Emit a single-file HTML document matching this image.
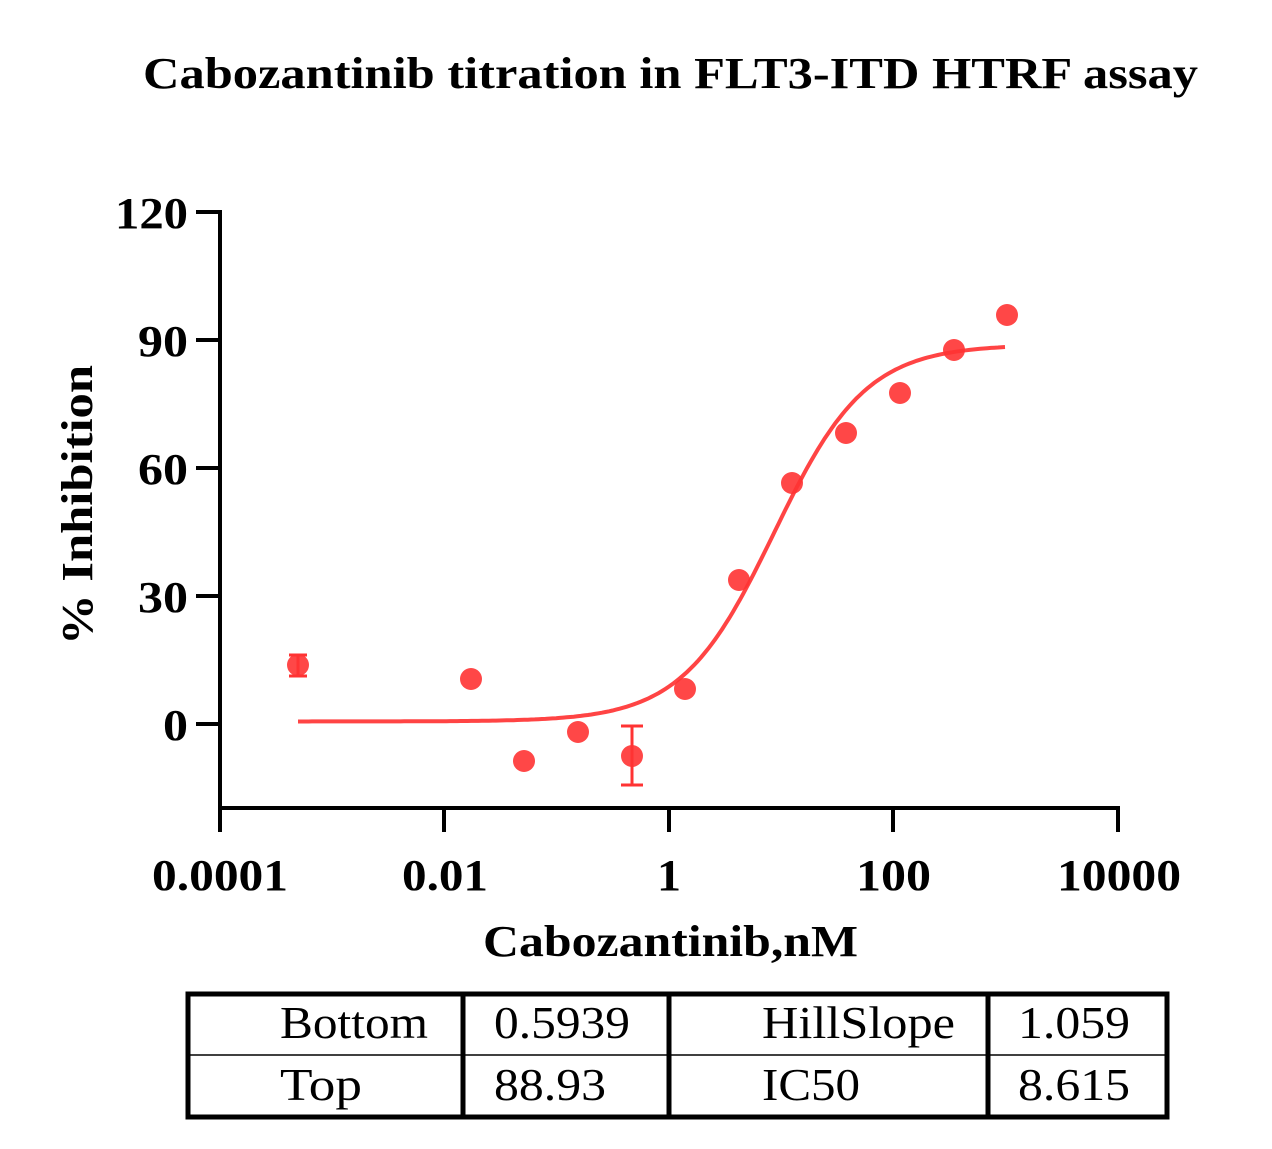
<!DOCTYPE html>
<html><head><meta charset="utf-8"><style>
html,body{margin:0;padding:0;background:#fff}
svg{display:block}
text{font-family:"Liberation Serif",serif;fill:#000}
.b{font-weight:bold}
</style></head><body>
<svg id="s" width="1272" height="1149" viewBox="0 0 1272 1149">
<text x="143" y="88" class="b" font-size="44" textLength="1055" lengthAdjust="spacingAndGlyphs">Cabozantinib titration in FLT3-ITD HTRF assay</text>
<g stroke="#000" stroke-width="4" fill="none">
<path d="M220 210 V808 H1120"/>
<path d="M196 212 H220 M196 340 H220 M196 468 H220 M196 596 H220 M196 724 H220"/>
<path d="M220 808 V832 M444 808 V832 M669 808 V832 M893 808 V832 M1118 808 V832"/>
</g>
<g class="b" font-size="44">
<text x="115" y="228" textLength="73" lengthAdjust="spacingAndGlyphs">120</text>
<text x="138" y="356" textLength="50" lengthAdjust="spacingAndGlyphs">90</text>
<text x="138" y="484" textLength="50" lengthAdjust="spacingAndGlyphs">60</text>
<text x="138" y="612" textLength="50" lengthAdjust="spacingAndGlyphs">30</text>
<text x="163" y="740" textLength="25" lengthAdjust="spacingAndGlyphs">0</text>
<text x="152" y="890" textLength="136" lengthAdjust="spacingAndGlyphs">0.0001</text>
<text x="402" y="890" textLength="86" lengthAdjust="spacingAndGlyphs">0.01</text>
<text x="657" y="890" textLength="24" lengthAdjust="spacingAndGlyphs">1</text>
<text x="856" y="890" textLength="75" lengthAdjust="spacingAndGlyphs">100</text>
<text x="1057" y="890" textLength="124" lengthAdjust="spacingAndGlyphs">10000</text>
<text x="483" y="956" textLength="375" lengthAdjust="spacingAndGlyphs">Cabozantinib,nM</text>
</g>
<text class="b" font-size="44" transform="translate(92,645) rotate(-90)" textLength="280" lengthAdjust="spacingAndGlyphs">% Inhibition</text>
<path id="curve" fill="none" stroke="#f44" stroke-width="4"/>
<g fill="#f33" fill-opacity="0.9">
<circle cx="298" cy="665" r="11"/><circle cx="471" cy="679" r="11"/><circle cx="524" cy="761" r="11"/><circle cx="578" cy="732" r="11"/><circle cx="632" cy="756" r="11"/><circle cx="685" cy="689" r="11"/><circle cx="739" cy="580" r="11"/><circle cx="792" cy="483" r="11"/><circle cx="846" cy="433" r="11"/><circle cx="900" cy="393" r="11"/><circle cx="954" cy="350" r="11"/><circle cx="1007" cy="315" r="11"/>
</g>
<g stroke="#f33" stroke-width="3">
<path d="M298 655 V676 M289 655 H307 M289 676 H307"/>
<path d="M632 726 V785 M621 726 H643 M621 785 H643"/>
</g>
<g stroke="#000" fill="none">
<rect x="188" y="994" width="979" height="123" stroke-width="5"/>
<path d="M463 994 V1117 M669 994 V1117 M988 994 V1117" stroke-width="5"/>
<path d="M188 1055 H1167" stroke-width="1.5"/>
</g>
<g font-size="46">
<text x="280" y="1038" textLength="148" lengthAdjust="spacingAndGlyphs">Bottom</text>
<text x="494" y="1038" textLength="136" lengthAdjust="spacingAndGlyphs">0.5939</text>
<text x="762" y="1038" textLength="193" lengthAdjust="spacingAndGlyphs">HillSlope</text>
<text x="1018" y="1038" textLength="112" lengthAdjust="spacingAndGlyphs">1.059</text>
<text x="280" y="1100" textLength="82" lengthAdjust="spacingAndGlyphs">Top</text>
<text x="494" y="1100" textLength="112" lengthAdjust="spacingAndGlyphs">88.93</text>
<text x="762" y="1100" textLength="98" lengthAdjust="spacingAndGlyphs">IC50</text>
<text x="1018" y="1100" textLength="112" lengthAdjust="spacingAndGlyphs">8.615</text>
</g>
</svg>
<script>
var d="",b=0.5939,t=88.93,ic=8.615,h=1.059;
for(var i=0;i<=200;i++){var X=298+(1005-298)*i/200;var lx=-4+(X-220)/112.25;var x=Math.pow(10,lx);
var y=b+(t-b)/(1+Math.pow(ic/x,h));var Y=724-y*128/30;d+=(i?"L":"M")+X.toFixed(1)+" "+Y.toFixed(1);}
document.getElementById("curve").setAttribute("d",d);
</script>
</body></html>
